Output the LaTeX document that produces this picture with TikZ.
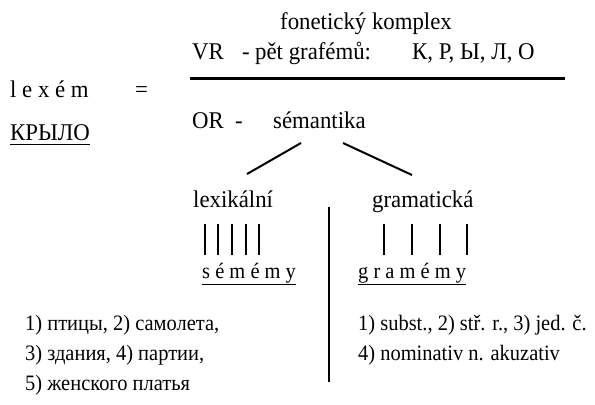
\documentclass[tikz,border=0pt]{standalone}
\usepackage{fontspec}
\setmainfont{Liberation Serif}[FakeStretch=0.93]
\newfontfamily\bigfam{Liberation Serif}[FakeStretch=0.95]
\newcommand{\txtsz}{\fontsize{22bp}{26bp}\selectfont}
\newcommand{\bigsz}{\bigfam\fontsize{24bp}{28bp}\selectfont}
\begin{document}
\begin{tikzpicture}[x=1bp,y=-1bp,
  every node/.style={inner sep=0pt, anchor=base west, font=\txtsz},
  big/.style={font=\bigsz},
  rule/.style={line width=2.2bp},
  conn/.style={line width=2bp},
  bar/.style={line width=2bp}]
\useasboundingbox (0,0) rectangle (595,404);
% top block
\node[big] (fon) at (280,29) {fonetický komplex};
\node[big] (vr) at (192,59) {VR};
\node[big] (vrdash) at (242,59) {-};
\node[big] (pet) at (255,59) {pět grafémů:};
\node[big] (graf) at (412,59) {К, Р, Ы, Л, О};
\coordinate (fl) at (190,78.5);
\coordinate (fr) at (565,78.5);
\draw[rule] (fl) -- (fr);
\node[big] (lex) at (10,97) {l e x é m};
\node[big] (eq) at (135,97) {=};
\node[big] (kr) at (10,140) {\underline{КРЫЛО\rule[-3bp]{0pt}{0pt}}};
\node[big] (or) at (192,128) {OR};
\node[big] (ordash) at (235,128) {-};
\node[big] (sem) at (273,128) {sémantika};
% branches
\coordinate (b1a) at (301,143);
\coordinate (b1b) at (247,174);
\coordinate (b2a) at (343,143);
\coordinate (b2b) at (412,175);
\draw[conn] (b1a) -- (b1b);
\draw[conn] (b2a) -- (b2b);
\node[big] (lexk) at (193,207) {lexikální};
\node[big] (gram) at (372,207) {gramatická};
% bars
\foreach \x [count=\i] in {205,218,232,246,259}{
  \coordinate (lt\i) at (\x,224); \coordinate (lb\i) at (\x,255);
  \draw[bar] (lt\i) -- (lb\i);}
\foreach \x [count=\i] in {384,412,440,467}{
  \coordinate (rt\i) at (\x,224); \coordinate (rb\i) at (\x,255);
  \draw[bar] (rt\i) -- (rb\i);}
\node (semy) at (202,278) {\underline{s é m é m y}};
\node (gramy) at (358,278) {\underline{g r a m é m y}};
% divider
\coordinate (dt) at (329,207);
\coordinate (db) at (329,382);
\draw[bar] (dt) -- (db);
% lists
\node (l1) at (25,330) {1) птицы, 2) самолета,};
\node (l2) at (25,360) {3) здания, 4) партии,};
\node (l3) at (25,390) {5) женского платья};
\node (r1) at (358,330) {1) subst., 2) stř. r., 3) jed. č.};
\node (r2) at (358,360) {4) nominativ n. akuzativ};
\end{tikzpicture}
\end{document}
